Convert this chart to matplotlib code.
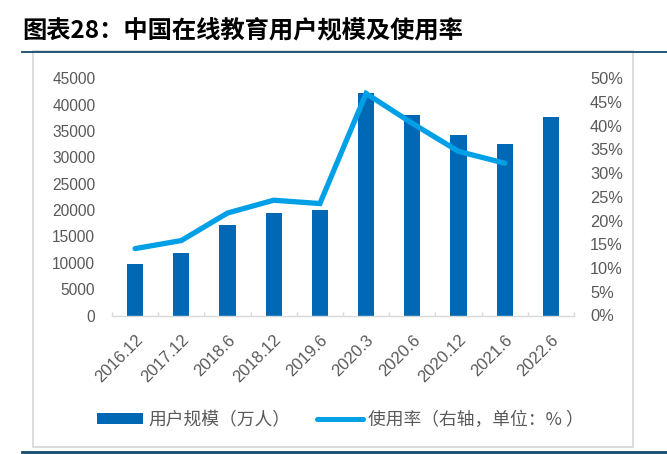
import numpy as np
import matplotlib
matplotlib.use("Agg")
import matplotlib.pyplot as plt
from matplotlib.lines import Line2D
from matplotlib.patches import Rectangle, Patch
from matplotlib.ticker import FuncFormatter, MultipleLocator, FixedLocator

plt.rcParams['font.family'] = ['Liberation Sans', 'Noto Sans CJK SC', 'DejaVu Sans']

categories = ['2016.12', '2017.12', '2018.6', '2018.12', '2019.6',
              '2020.3', '2020.6', '2020.12', '2021.6', '2022.6']
users = [9798, 11890, 17186, 19416, 19946, 42296, 38060, 34171, 32493, 37702]
usage_rate = [14.1, 15.8, 21.6, 24.3, 23.6, 46.8, 40.5, 34.6, 32.1, np.nan]

title = '图表28：中国在线教育用户规模及使用率'
bar_label = '用户规模（万人）'
line_label = '使用率（右轴，单位：% ）'

BAR = '#0068b4'
LINE = '#00a0e6'
TICK = '#595959'
GRID = '#d9d9d9'
NAVY = '#134a6c'

W, H = 667, 454
fig = plt.figure(figsize=(W / 100, H / 100), dpi=100)

def fx(px):
    return px / W

def fy(py):
    return 1 - py / H

# decorative frame and lines
fig.add_artist(Line2D([fx(22), fx(667)], [fy(51.5), fy(51.5)], color=NAVY, lw=1.3))
fig.add_artist(Line2D([fx(22), fx(667)], [fy(452), fy(452)], color=NAVY, lw=2.0))
fig.add_artist(Rectangle((fx(33), fy(447)), fx(633) - fx(33), fy(51) - fy(447),
                         fill=False, edgecolor=GRID, lw=1.3))

fig.text(fx(22), fy(31), title, fontsize=17.5, fontweight='bold', fontstyle='italic',
         family=['Noto Sans CJK SC', 'DejaVu Sans'], va='center', ha='left', color='black')

left, right = 112, 574
bottom, top = 315.5, 78.3
ax = fig.add_axes([fx(left), fy(bottom), fx(right) - fx(left), (bottom - top) / H])
x = np.arange(len(categories))
ax.bar(x, users, width=0.35, color=BAR, zorder=2)
ax.set_xlim(-0.5, len(categories) - 0.5)
ax.set_ylim(0, 45000)
ax.yaxis.set_major_locator(MultipleLocator(5000))

for s in ['top', 'left', 'right']:
    ax.spines[s].set_visible(False)
ax.spines['bottom'].set_color(GRID)
ax.spines['bottom'].set_linewidth(1.0)

ax.set_xticks(x)
ax.set_xticklabels(categories, rotation=45, ha='right', rotation_mode='anchor',
                   fontsize=12, color=TICK)
ax.tick_params(axis='x', which='major', length=0, pad=12)
ax.xaxis.set_minor_locator(FixedLocator(np.arange(-0.5, len(categories), 1.0)))
ax.tick_params(axis='x', which='minor', direction='in', length=3, width=1, color=GRID)
ax.tick_params(axis='y', length=0, pad=12, labelsize=11.2, labelcolor=TICK)

ax2 = ax.twinx()
ax2.plot(x, usage_rate, color=LINE, lw=3.8, solid_capstyle='round', solid_joinstyle='miter', zorder=3)
ax2.set_ylim(0, 50)
ax2.yaxis.set_major_locator(MultipleLocator(5))
ax2.yaxis.set_major_formatter(FuncFormatter(lambda v, p: f'{v:.0f}%'))
ax2.tick_params(axis='y', length=0, pad=11.5, labelsize=11.8, labelcolor=TICK)
for s in ['top', 'left', 'right', 'bottom']:
    ax2.spines[s].set_visible(False)

handles = [Patch(facecolor=BAR, edgecolor='none'),
           Line2D([0], [0], color=LINE, lw=3.6, solid_capstyle='round')]
fig.legend(handles, [bar_label, line_label], loc='center left',
           bbox_to_anchor=(fx(96.7), fy(420)), ncol=2, frameon=False,
           borderpad=0, borderaxespad=0, handlelength=2.6, handleheight=0.55,
           handletextpad=0.3, columnspacing=1.5,
           prop={'family': ['Noto Sans CJK SC', 'DejaVu Sans'], 'size': 12.8},
           labelcolor=TICK)

fig.savefig('out.png', dpi=100)
